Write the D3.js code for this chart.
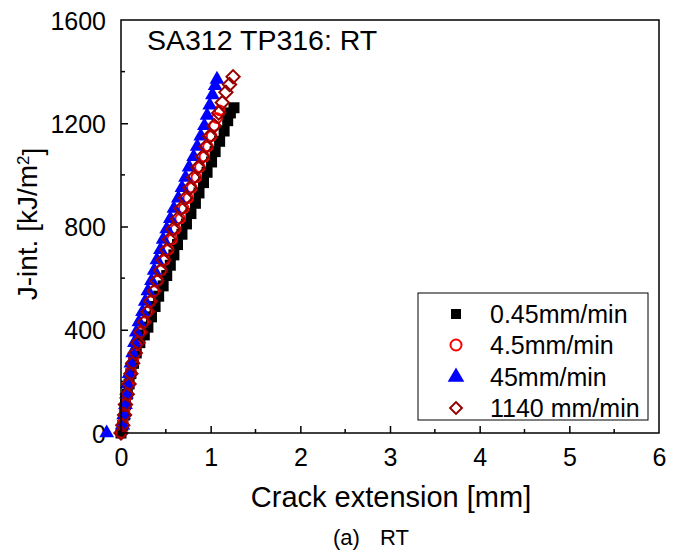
<!DOCTYPE html>
<meta charset="utf-8">
<style>
body { margin: 0; padding: 0; background: #fff; }
svg { font-family: "Liberation Sans", Arial, sans-serif; }
.axis text { font-size: 25px; fill: #000; font-family: "Liberation Sans", Arial, sans-serif; }
.axis path, .axis line { stroke: #000; stroke-width: 1.5px; }
</style>
<body>
<script src="https://d3js.org/d3.v7.min.js"></script>
<script>
// J-R data (crack extension in mm, J in kJ/m^2)
var x045 = [0, 0.02, 0.04, 0.05, 0.07, 0.09, 0.11, 0.14, 0.17, 0.21, 0.26, 0.30, 0.34, 0.38, 0.42, 0.47, 0.51, 0.55, 0.59, 0.63, 0.68, 0.73, 0.78, 0.83, 0.87, 0.92, 0.96, 1.01, 1.05, 1.10, 1.15, 1.19, 1.22, 1.26];
var j045 = [0, 30, 70, 110, 150, 190, 230, 270, 310, 350, 380, 410, 450, 490, 530, 570, 610, 650, 690, 730, 770, 810, 850, 890, 930, 970, 1010, 1050, 1090, 1130, 1170, 1210, 1240, 1260];

var x45s = [0, 0.02, 0.04, 0.06, 0.08, 0.11, 0.14, 0.17, 0.21, 0.25, 0.29, 0.33, 0.37, 0.41, 0.45, 0.49, 0.53, 0.57, 0.61, 0.66, 0.70, 0.75, 0.79, 0.84, 0.88, 0.93, 0.97, 1.01, 1.04, 1.07, 1.10];
var j45s = [0, 40, 90, 140, 190, 240, 290, 340, 390, 430, 470, 510, 550, 590, 630, 670, 710, 750, 790, 830, 870, 910, 950, 990, 1030, 1070, 1110, 1150, 1190, 1220, 1250];

var x45 = [-0.16, 0.02, 0.03, 0.05, 0.06, 0.07, 0.09, 0.11, 0.13, 0.15, 0.17, 0.20, 0.24, 0.27, 0.30, 0.34, 0.37, 0.40, 0.44, 0.47, 0.51, 0.55, 0.59, 0.64, 0.68, 0.72, 0.76, 0.81, 0.85, 0.89, 0.93, 0.96, 0.99, 1.02, 1.05, 1.07];
var j45 = [0, 30, 70, 110, 150, 190, 230, 270, 310, 350, 390, 430, 470, 510, 550, 590, 630, 670, 710, 750, 790, 830, 870, 910, 950, 990, 1030, 1070, 1110, 1150, 1190, 1230, 1270, 1310, 1345, 1370];

var x1140 = [0, 0.02, 0.04, 0.05, 0.07, 0.09, 0.11, 0.13, 0.16, 0.19, 0.22, 0.26, 0.30, 0.33, 0.37, 0.40, 0.44, 0.47, 0.51, 0.54, 0.58, 0.63, 0.67, 0.72, 0.77, 0.81, 0.86, 0.91, 0.95, 0.99, 1.04, 1.09, 1.13, 1.17, 1.21, 1.25];
var j1140 = [0, 30, 70, 110, 150, 190, 230, 270, 310, 350, 390, 430, 470, 510, 550, 590, 630, 670, 710, 750, 790, 830, 870, 910, 950, 990, 1030, 1070, 1110, 1150, 1190, 1240, 1280, 1320, 1350, 1380];

var legendLabels = ["0.45mm/min", "4.5mm/min", "45mm/min", "1140 mm/min"];
var xTicks = [0, 1, 2, 3, 4, 5, 6];
var yTicks = [0, 400, 800, 1200, 1600];

var width = 683, height = 552;
var mLeft = 121, mRight = 659, mTop = 20, mBottom = 433;

var svg = d3.select("body").append("svg")
    .attr("width", width)
    .attr("height", height);

var x = d3.scaleLinear().domain([0, 6]).range([mLeft, mRight]);
var y = d3.scaleLinear().domain([0, 1600]).range([mBottom, mTop]);

// minor ticks
svg.append("g").selectAll("line")
    .data(d3.range(0.5, 6, 1))
    .join("line")
    .attr("x1", d => x(d)).attr("x2", d => x(d))
    .attr("y1", mBottom).attr("y2", mBottom - 4)
    .attr("stroke", "#000").attr("stroke-width", 1.5);
svg.append("g").selectAll("line")
    .data(d3.range(200, 1600, 400))
    .join("line")
    .attr("y1", d => y(d)).attr("y2", d => y(d))
    .attr("x1", mLeft).attr("x2", mLeft + 4)
    .attr("stroke", "#000").attr("stroke-width", 1.5);

var xAxis = svg.append("g")
    .attr("class", "axis")
    .attr("transform", "translate(0," + mBottom + ")")
    .call(d3.axisBottom(x).tickValues(xTicks).tickFormat(d3.format("d"))
      .tickSizeInner(-7).tickSizeOuter(0).tickPadding(15));
xAxis.select(".domain").remove();
xAxis.selectAll(".tick").filter(d => d === 6).select("line").remove();

var yAxis = svg.append("g")
    .attr("class", "axis")
    .attr("transform", "translate(" + mLeft + ",0)")
    .call(d3.axisLeft(y).tickValues(yTicks).tickFormat(d3.format("d"))
      .tickSizeInner(-7).tickSizeOuter(0).tickPadding(15));
yAxis.select(".domain").remove();
yAxis.selectAll(".tick").filter(d => d === 1600).select("line").remove();
yAxis.selectAll("text").attr("dy", "0.36em");

// series
function zip(xs, ys) { return xs.map((v, i) => [v, ys[i]]); }

var sq = d3.symbol().type(d3.symbolSquare).size(121);
var tri = d3.symbol().type(d3.symbolTriangle).size(95);
var dia = d3.symbol().type(d3.symbolSquare).size(88);

svg.append("g").selectAll("path")
    .data(zip(x045, j045))
    .join("path")
    .attr("d", sq)
    .attr("transform", d => "translate(" + x(d[0]) + "," + y(d[1]) + ")")
    .attr("fill", "#000");

svg.append("g").selectAll("circle")
    .data(zip(x45s, j45s))
    .join("circle")
    .attr("cx", d => x(d[0])).attr("cy", d => y(d[1]))
    .attr("r", 4.8)
    .attr("fill", "none").attr("stroke", "#ff0000").attr("stroke-width", 2);

svg.append("g").selectAll("path")
    .data(zip(x45, j45))
    .join("path")
    .attr("d", tri)
    .attr("transform", d => "translate(" + x(d[0]) + "," + y(d[1]) + ")")
    .attr("fill", "#0000ff");

svg.append("g").selectAll("path")
    .data(zip(x1140, j1140))
    .join("path")
    .attr("d", dia)
    .attr("transform", d => "translate(" + x(d[0]) + "," + y(d[1]) + ") rotate(45)")
    .attr("fill", "none").attr("stroke", "#990000").attr("stroke-width", 2);

// frame
svg.append("rect")
    .attr("x", mLeft).attr("y", mTop)
    .attr("width", mRight - mLeft).attr("height", mBottom - mTop)
    .attr("fill", "none").attr("stroke", "#000").attr("stroke-width", 1.5);

// legend
var lg = svg.append("g");
lg.append("rect")
    .attr("x", 418).attr("y", 293).attr("width", 230).attr("height", 127)
    .attr("fill", "#fff").attr("stroke", "#000").attr("stroke-width", 1);
var ly = [314, 345, 377, 408];
lg.append("path").attr("d", d3.symbol().type(d3.symbolSquare).size(100))
    .attr("transform", "translate(456," + ly[0] + ")").attr("fill", "#000");
lg.append("circle").attr("cx", 456).attr("cy", ly[1]).attr("r", 5.5)
    .attr("fill", "none").attr("stroke", "#ff0000").attr("stroke-width", 2);
lg.append("path").attr("d", d3.symbol().type(d3.symbolTriangle).size(120))
    .attr("transform", "translate(456," + ly[2] + ")").attr("fill", "#0000ff");
lg.append("path").attr("d", d3.symbol().type(d3.symbolSquare).size(70))
    .attr("transform", "translate(456," + ly[3] + ") rotate(45)")
    .attr("fill", "none").attr("stroke", "#990000").attr("stroke-width", 2);
lg.selectAll("text")
    .data(legendLabels)
    .join("text")
    .attr("x", 490).attr("y", (d, i) => ly[i])
    .attr("dy", "0.36em")
    .attr("font-size", 25)
    .text(d => d);

// titles
svg.append("text")
    .attr("x", 147).attr("y", 50)
    .attr("font-size", 28.5)
    .text("SA312 TP316: RT");

svg.append("text")
    .attr("x", 391).attr("y", 507)
    .attr("text-anchor", "middle")
    .attr("font-size", 29)
    .text("Crack extension [mm]");

svg.append("text")
    .attr("x", 333).attr("y", 545)
    .attr("font-size", 22)
    .text("(a)");
svg.append("text")
    .attr("x", 380).attr("y", 545)
    .attr("font-size", 22)
    .text("RT");

var yt = svg.append("text")
    .attr("transform", "translate(37,224) rotate(-90)")
    .attr("text-anchor", "middle")
    .attr("font-size", 28);
yt.append("tspan").text("J-int. [kJ/m");
yt.append("tspan").attr("dy", "-0.45em").attr("font-size", 17).text("2");
yt.append("tspan").attr("dy", "0.45em").text("]");
</script>
</body>
